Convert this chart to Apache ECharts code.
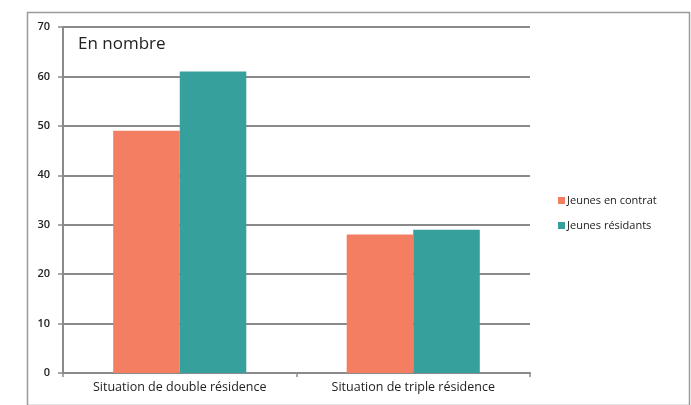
<!DOCTYPE html>
<html>
<head>
<meta charset="utf-8">
<script src="https://cdn.jsdelivr.net/npm/echarts@6/dist/echarts.min.js"></script>
<style>
html,body{margin:0;padding:0;background:#fff;}
#c{width:691px;height:405px;}
</style>
</head>
<body>
<div id="c"></div>
<script>
const categories = ["Situation de double résidence", "Situation de triple résidence"];
const seriesNames = ["Jeunes en contrat", "Jeunes résidants"];
const contrat = [49, 28];
const residants = [61, 29];
const yTicks = [0, 10, 20, 30, 40, 50, 60, 70];

const font = "'Open Sans', 'DejaVu Sans', sans-serif";
const chart = echarts.init(document.getElementById('c'), null, {renderer: 'canvas'});
chart.setOption({
  animation: false,
  backgroundColor: '#fff',
  title: {
    text: 'En nombre', left: 73, top: 31,
    textStyle: {fontFamily: font, fontSize: 17, fontWeight: 'normal', color: '#222'}
  },
  graphic: [{
    type: 'rect', left: 25, top: 10, shape: {width: 662, height: 393},
    style: {fill: 'none', stroke: '#9a9a9a', lineWidth: 1.5}, silent: true
  }],
  legend: {
    orient: 'vertical', left: 553, top: 190, itemWidth: 7, itemHeight: 7, itemGap: 14,
    icon: 'rect',
    textStyle: {fontFamily: font, fontSize: 11, color: '#222', padding: [0,0,0,-3]},
    data: seriesNames
  },
  grid: {left: 63, right: 161, top: 27, bottom: 32, containLabel: false},
  xAxis: {
    type: 'category', data: categories,
    axisLine: {lineStyle: {color: '#8a8a8a', width: 2}},
    axisTick: {show: true, length: 4, lineStyle: {color: '#8a8a8a', width: 1.5}},
    axisLabel: {fontFamily: font, fontSize: 12.5, color: '#222', margin: 8}
  },
  yAxis: {
    type: 'value', min: 0, max: 70, interval: 10,
    axisLine: {show: true, lineStyle: {color: '#8a8a8a', width: 2}},
    axisTick: {show: true, length: 5, lineStyle: {color: '#8a8a8a', width: 1.5}},
    axisLabel: {fontFamily: font, fontSize: 11, fontWeight: 600, color: '#222', margin: 13,
      formatter: v => yTicks.includes(v) ? String(v) : ''},
    splitLine: {lineStyle: {color: '#8a8a8a', width: 2}}
  },
  series: [
    {name: seriesNames[0], type: 'bar', data: contrat, barWidth: '28.5%', barGap: '0%',
     itemStyle: {color: '#F47E62'}},
    {name: seriesNames[1], type: 'bar', data: residants, barWidth: '28.5%', barGap: '0%',
     itemStyle: {color: '#36A09C'}}
  ]
});
</script>
</body>
</html>
